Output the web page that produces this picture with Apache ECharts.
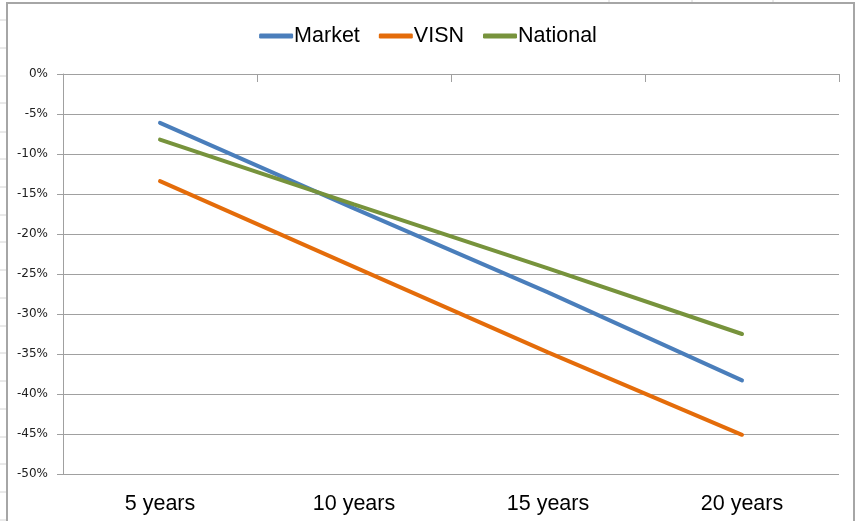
<!DOCTYPE html>
<html>
<head>
<meta charset="utf-8">
<script src="https://cdn.jsdelivr.net/npm/echarts@6/dist/echarts.min.js"></script>
<style>
html,body{margin:0;padding:0;background:#fff;}
#c{width:856px;height:521px;}
</style>
</head>
<body>
<div id="c"></div>
<script>
const categories = ['5 years', '10 years', '15 years', '20 years'];
const market = [-6.1, -16.8, -27.3, -38.3];
const visn = [-13.4, -24.1, -34.8, -45.1];
const national = [-8.2, -16.3, -24.3, -32.5];
const seriesNames = ['Market', 'VISN', 'National'];
const colors = ['#4a7ebb', '#e46c0a', '#77933c'];

const chart = echarts.init(document.getElementById('c'));

// spreadsheet background decoration
const bg = [];
[20, 48, 76, 103, 132, 159, 187, 215, 242, 270, 298, 326, 353, 381, 409, 437, 464, 492, 520].forEach(y => {
  bg.push({type: 'line', shape: {x1: 0, y1: y, x2: 7, y2: y}, style: {stroke: '#d4d4d4', lineWidth: 1}, silent: true, z: 0});
});
[609, 692, 773].forEach(x => {
  bg.push({type: 'line', shape: {x1: x, y1: 0, x2: x, y2: 3}, style: {stroke: '#d4d4d4', lineWidth: 1}, silent: true, z: 0});
});
bg.push({type: 'rect', shape: {x: 7, y: 3, width: 847, height: 530}, style: {fill: 'none', stroke: '#a6a6a6', lineWidth: 2}, silent: true, z: 0});

chart.setOption({
  animation: false,
  backgroundColor: '#fff',
  color: colors,
  graphic: bg,
  legend: {
    data: seriesNames,
    top: 20,
    left: 'center',
    icon: 'roundRect',
    itemWidth: 34,
    itemHeight: 5,
    itemGap: 19,
    textStyle: {fontFamily: 'Liberation Sans, Arial', fontSize: 21.5, color: '#000', padding: [0, 0, 0, -4]}
  },
  grid: {left: 63, right: 17, top: 74, bottom: 47, containLabel: false},
  xAxis: [
    {
      type: 'category', data: categories, position: 'top', boundaryGap: true,
      axisLine: {show: true, lineStyle: {color: '#a0a0a0', width: 1}},
      axisTick: {show: true, inside: true, length: 8, lineStyle: {color: '#a0a0a0'}},
      axisLabel: {show: false}, splitLine: {show: false}
    },
    {
      type: 'category', data: categories, position: 'bottom', boundaryGap: true,
      axisLine: {show: false}, axisTick: {show: false}, splitLine: {show: false},
      axisLabel: {show: true, fontFamily: 'Liberation Sans, Arial', fontSize: 21.5, color: '#000', margin: 19}
    }
  ],
  yAxis: {
    type: 'value', min: -50, max: 0, interval: 5,
    axisLine: {show: true, lineStyle: {color: '#a0a0a0'}},
    axisTick: {show: true, length: 6, lineStyle: {color: '#a0a0a0'}},
    axisLabel: {formatter: '{value}%', fontFamily: 'DejaVu Sans, Verdana', fontSize: 12, color: '#202020', margin: 15},
    splitLine: {show: true, lineStyle: {color: '#a0a0a0', width: 1}}
  },
  series: [
    {name: seriesNames[0], type: 'line', data: market, xAxisIndex: 0, symbol: 'none', lineStyle: {width: 4, cap: 'round'}, z: 3},
    {name: seriesNames[1], type: 'line', data: visn, xAxisIndex: 0, symbol: 'none', lineStyle: {width: 4, cap: 'round'}, z: 3},
    {name: seriesNames[2], type: 'line', data: national, xAxisIndex: 0, symbol: 'none', lineStyle: {width: 4, cap: 'round'}, z: 3}
  ]
});
</script>
</body>
</html>
